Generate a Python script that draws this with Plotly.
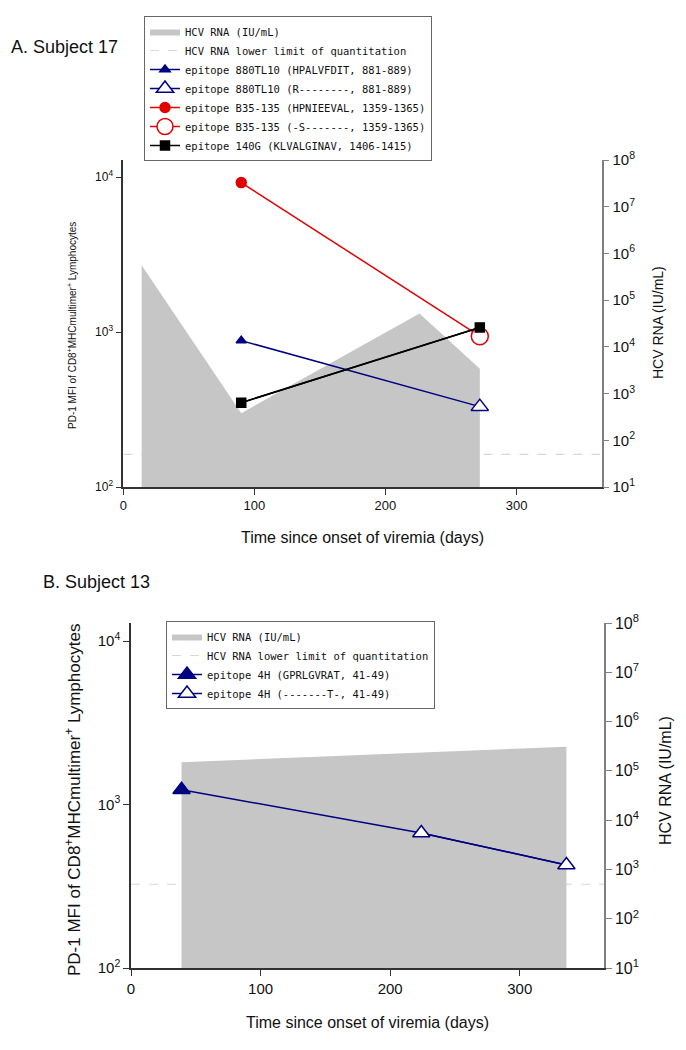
import plotly.graph_objects as go

# ---------------- Data ----------------
X_MAX = 365
# Panel A (Subject 17)
a_rna_days = [14, 90, 226, 272]
a_rna_vals = [5.6e5, 380, 5.2e4, 3400]
a_lloq = 50
a_880_days = [90, 272]
a_880_vals = [880, 330]
a_b35_days = [90, 272]
a_b35_vals = [9200, 940]
a_140g_days = [90, 272]
a_140g_vals = [350, 1070]

# Panel B (Subject 13)
b_rna_days = [39, 336]
b_rna_vals = [1.5e5, 3.1e5]
b_lloq = 500
b_4h_days = [39, 224, 336]
b_4h_vals = [1230, 670, 427]

RNA_MIN = 10  # bottom of HCV RNA axis

NAVY = "#000080"
RED = "#e00000"
BLACK = "#000000"
AREA = "#c6c6c6"
LLOQC = "#d8d8d8"
SANS = "Liberation Sans, Arial, sans-serif"
MONO = "DejaVu Sans Mono, Liberation Mono, monospace"

W, H = 686, 1050
OFF = 8  # page body margin offset


def fx(px):
    return (px - OFF) / W


def fy(py):
    return 1 - (py - OFF) / H


fig = go.Figure()


def add_panel(xa, ya_rna, ya_pd, legend, rna_days, rna_vals, lloq, series, fill_markers):
    # LLOQ dashed line (behind area)
    fig.add_trace(go.Scatter(
        x=[0, X_MAX], y=[lloq, lloq], mode="lines", xaxis=xa, yaxis=ya_rna,
        line=dict(color=LLOQC, width=1.2, dash="dash"),
        name="HCV RNA lower limit of quantitation", legend=legend, legendrank=2,
        hoverinfo="skip"))
    # HCV RNA area
    fig.add_trace(go.Scatter(
        x=[rna_days[0]] + rna_days + [rna_days[-1]],
        y=[RNA_MIN] + rna_vals + [RNA_MIN],
        mode="lines", fill="toself", fillcolor=AREA, xaxis=xa, yaxis=ya_rna,
        line=dict(color=AREA, width=0),
        name="HCV RNA (IU/mL)", legend=legend, legendrank=1, hoverinfo="skip"))
    # connecting lines
    for days, vals, color in series:
        fig.add_trace(go.Scatter(
            x=days, y=vals, mode="lines", xaxis=xa, yaxis=ya_pd,
            line=dict(color=color, width=1.5), showlegend=False, hoverinfo="skip"))
    # markers with legend entries
    for rank, (name, days, vals, color, symbol, size, filled) in enumerate(fill_markers):
        fig.add_trace(go.Scatter(
            x=days, y=vals, mode="lines+markers", xaxis=xa, yaxis=ya_pd,
            line=dict(color=color, width=1.5),
            marker=dict(symbol=symbol, size=size,
                        color=color if filled else "white",
                        line=dict(color=color, width=1.5)),
            name=name, legend=legend, legendrank=10 + rank))


add_panel("x", "y", "y2", "legend", a_rna_days, a_rna_vals, a_lloq,
          [(a_880_days, a_880_vals, NAVY), (a_b35_days, a_b35_vals, RED),
           (a_140g_days, a_140g_vals, BLACK)],
          [("epitope 880TL10 (HPALVFDIT, 881-889)", a_880_days[:1], a_880_vals[:1], NAVY, "triangle-up", 9, True),
           ("epitope 880TL10 (R--------, 881-889)", a_880_days[1:], a_880_vals[1:], NAVY, "triangle-up", 15, False),
           ("epitope B35-135 (HPNIEEVAL, 1359-1365)", a_b35_days[:1], a_b35_vals[:1], RED, "circle", 10, True),
           ("epitope B35-135 (-S-------, 1359-1365)", a_b35_days[1:], a_b35_vals[1:], RED, "circle", 17, False),
           ("epitope 140G (KLVALGINAV, 1406-1415)", a_140g_days, a_140g_vals, BLACK, "square", 9, True)])

add_panel("x2", "y3", "y4", "legend2", b_rna_days, b_rna_vals, b_lloq,
          [(b_4h_days, b_4h_vals, NAVY)],
          [("epitope 4H (GPRLGVRAT, 41-49)", b_4h_days[:1], b_4h_vals[:1], NAVY, "triangle-up", 15, True),
           ("epitope 4H (-------T-, 41-49)", b_4h_days[1:], b_4h_vals[1:], NAVY, "triangle-up", 15, False)])

pd_ticks = [100, 1000, 10000]
pd_text = ["10<sup>2</sup>", "10<sup>3</sup>", "10<sup>4</sup>"]
rna_ticks = [10 ** k for k in range(1, 9)]
rna_text = ["10<sup>%d</sup>" % k for k in range(1, 9)]
x_ticks = [0, 100, 200, 300]

DARK = "#333333"
GREY = "#808080"
TXT = "#111111"


def xaxis_cfg(domain, anchor, fsize):
    return dict(domain=domain, anchor=anchor, range=[0, X_MAX], tickvals=x_ticks,
                ticks="outside", ticklen=6, showline=True, linecolor=DARK, linewidth=1.5,
                tickcolor=DARK, showgrid=False, zeroline=False, automargin=False,
                tickfont=dict(family=SANS, size=fsize, color=TXT))


def yaxis_cfg(rng, ticks, text, side, color, fsize, **kw):
    d = dict(type="log", range=rng, side=side, tickvals=ticks, ticktext=text,
             ticks="outside", ticklen=6, showline=True, linecolor=color, linewidth=1.5,
             tickcolor=color, showgrid=False, zeroline=False, automargin=False,
             tickfont=dict(family=SANS, size=fsize, color=TXT))
    d.update(kw)
    return d


dA = [fx(123.3), fx(601.7)]
dB = [fx(131), fx(604)]
yA = [fy(487), fy(160)]
yB = [fy(968), fy(623)]

fig.update_layout(
    width=W, height=H,
    margin=dict(l=0, r=0, t=0, b=0, pad=0, autoexpand=False),
    paper_bgcolor="white", plot_bgcolor="white", showlegend=True,
    xaxis=xaxis_cfg(dA, "y", 13),
    yaxis=yaxis_cfg([1, 8], rna_ticks, rna_text, "right", GREY, 15, domain=yA, anchor="x"),
    yaxis2=yaxis_cfg([2, 2 + 327 / 155], pd_ticks, pd_text, "left", DARK, 12,
                     overlaying="y", anchor="x"),
    xaxis2=xaxis_cfg(dB, "y3", 15),
    yaxis3=yaxis_cfg([1, 8], rna_ticks, rna_text, "right", GREY, 16, domain=yB, anchor="x2"),
    yaxis4=yaxis_cfg([2, 2 + 345 / 163.5], pd_ticks, pd_text, "left", DARK, 15,
                     overlaying="y3", anchor="x2"),
    legend=dict(x=fx(144), y=fy(16), xanchor="left", yanchor="top",
                bordercolor="#666666", borderwidth=1, bgcolor="white",
                font=dict(family=MONO, size=10.5, color=TXT), tracegroupgap=0),
    legend2=dict(x=fx(166), y=fy(621), xanchor="left", yanchor="top",
                 bordercolor="#666666", borderwidth=1, bgcolor="white",
                 font=dict(family=MONO, size=10.5, color=TXT), tracegroupgap=0),
)

ann = [
    dict(text="A. Subject 17", x=9, y=47, xanchor="left", size=18),
    dict(text="B. Subject 13", x=41, y=582, xanchor="left", size=18),
    dict(text="PD-1 MFI of CD8<sup>+</sup>MHCmultimer<sup>+</sup> Lymphocytes", x=72, y=326,
         textangle=-90, size=10),
    dict(text="HCV RNA (IU/mL)", x=658, y=323, textangle=-90, size=14),
    dict(text="Time since onset of viremia (days)", x=362, y=537, size=16),
    dict(text="PD-1 MFI of CD8<sup>+</sup>MHCmultimer<sup>+</sup> Lymphocytes", x=73, y=800,
         textangle=-90, size=17),
    dict(text="HCV RNA (IU/mL)", x=665, y=781, textangle=-90, size=16),
    dict(text="Time since onset of viremia (days)", x=367, y=1022, size=16),
]
for a in ann:
    size = a.pop("size")
    fig.add_annotation(
        xref="paper", yref="paper", showarrow=False,
        xanchor=a.pop("xanchor", "center"), yanchor="middle",
        x=fx(a.pop("x")), y=fy(a.pop("y")),
        font=dict(family=SANS, size=size, color=TXT), **a)

fig.write_html("out.html")
